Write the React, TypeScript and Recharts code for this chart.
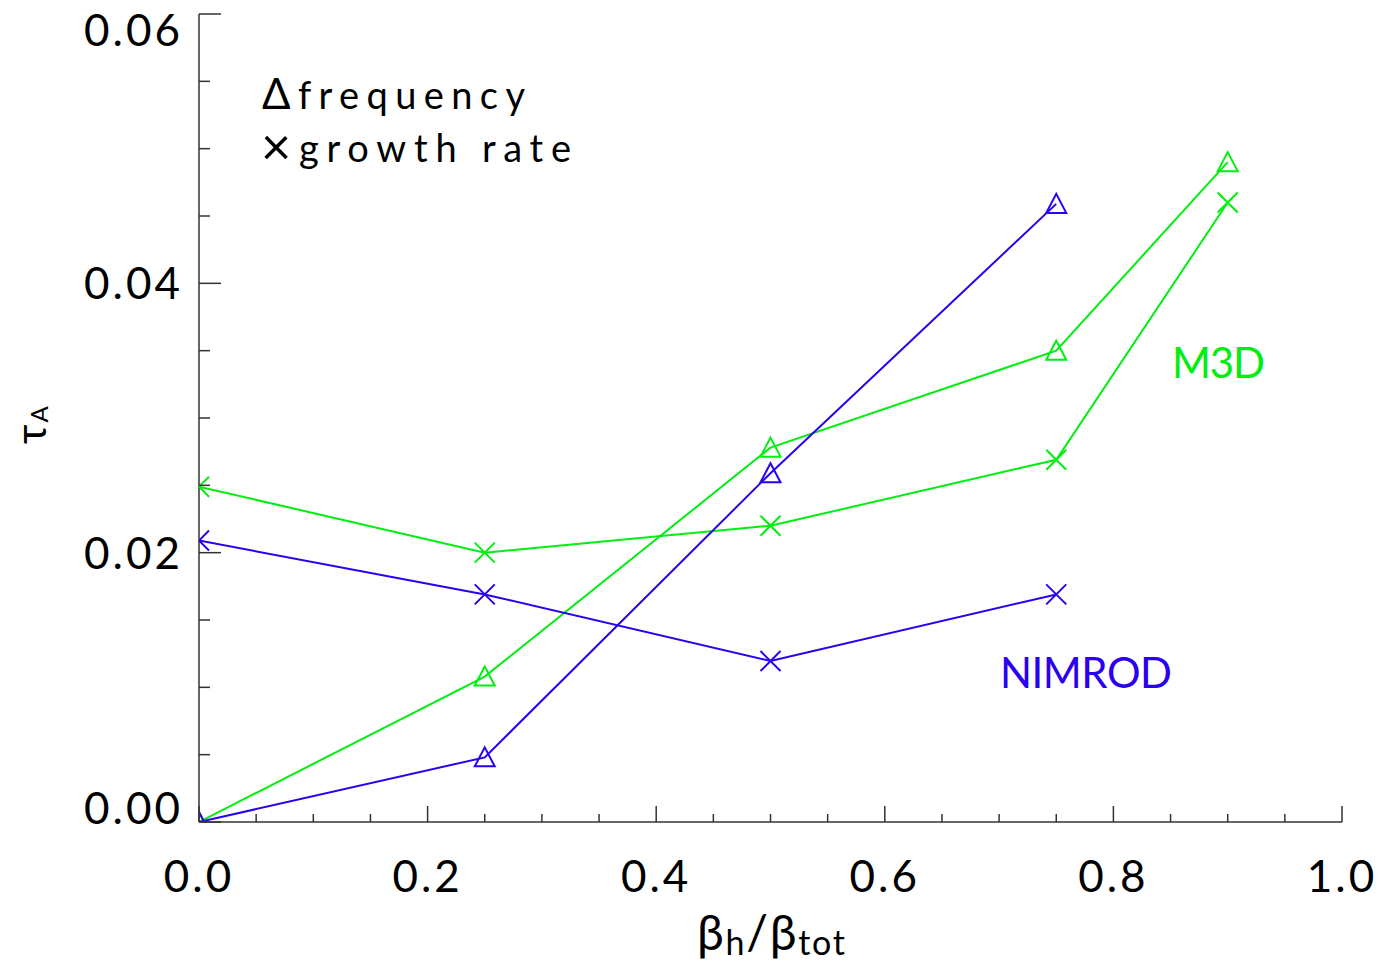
import React from "react";
import { ComposedChart, Line, XAxis, YAxis } from "recharts";

const betaRatio = [0, 0.25, 0.5, 0.75, 0.9];
const nimrodFrequency = [0, 0.0048, 0.0259, 0.0459, null];
const nimrodGrowth = [0.0209, 0.0169, 0.01195, 0.0169, null];
const m3dFrequency = [0, 0.0108, 0.0278, 0.035, 0.049];
const m3dGrowth = [0.0249, 0.02, 0.022, 0.0269, 0.046];

const xTicks = [0, 0.05, 0.1, 0.15, 0.2, 0.25, 0.3, 0.35, 0.4, 0.45, 0.5, 0.55, 0.6, 0.65, 0.7, 0.75, 0.8, 0.85, 0.9, 0.95, 1.0];
const yTicks = [0, 0.005, 0.01, 0.015, 0.02, 0.025, 0.03, 0.035, 0.04, 0.045, 0.05, 0.055, 0.06];

const BLUE = "#2a00f0";
const GREEN = "#00ee10";
const FRAME = "#333";
const FONT = "Lato, 'DejaVu Sans', sans-serif";

const chartData = betaRatio.map((x, i) => ({
  x,
  nimrodFreq: nimrodFrequency[i],
  nimrodGrowth: nimrodGrowth[i],
  m3dFreq: m3dFrequency[i],
  m3dGrowth: m3dGrowth[i],
}));

const isMajor = (v: number, step: number) => Math.abs(v / step - Math.round(v / step)) < 1e-6;

const BottomTick = (props: any) => {
  const { x, y, payload } = props;
  const major = isMajor(payload.value, 0.2);
  return (
    <g>
      <line x1={x} y1={y} x2={x} y2={y - (major ? 16 : 8)} stroke={FRAME} strokeWidth={1.5} />
      {major && (
        <text x={x} y={y + 70} textAnchor="middle" fontSize={44} fontFamily={FONT} fill="#000" letterSpacing={3}>
          {payload.value.toFixed(1)}
        </text>
      )}
    </g>
  );
};

const TopTick = (props: any) => {
  const { x, y, payload } = props;
  const major = isMajor(payload.value, 0.2);
  return <line x1={x} y1={y} x2={x} y2={y + (major ? 16 : 8)} stroke={FRAME} strokeWidth={1.5} />;
};

const LeftTick = (props: any) => {
  const { x, y, payload } = props;
  const v = payload.value;
  const major = isMajor(v, 0.02);
  // end labels are nudged inside the frame, as in the original
  const shift = v < 1e-9 ? -14 : v > 0.0599 ? 16 : 0;
  return (
    <g>
      <line x1={x} y1={y} x2={x + (major ? 22 : 11)} y2={y} stroke={FRAME} strokeWidth={1.5} />
      {major && (
        <text x={x - 16} y={y + 16 + shift} textAnchor="end" fontSize={44} fontFamily={FONT} fill="#000" letterSpacing={3}>
          {v.toFixed(2)}
        </text>
      )}
    </g>
  );
};

const RightTick = (props: any) => {
  const { x, y, payload } = props;
  const major = isMajor(payload.value, 0.02);
  return <line x1={x} y1={y} x2={x - (major ? 22 : 11)} y2={y} stroke={FRAME} strokeWidth={1.5} />;
};

const TriangleDot = (props: any) => {
  const { cx, cy, stroke } = props;
  if (cx == null || cy == null || isNaN(cy)) return <g />;
  return (
    <path
      d={`M${cx},${cy - 10} L${cx + 10},${cy + 9} L${cx - 10},${cy + 9} Z`}
      fill="none"
      stroke={stroke}
      strokeWidth={2}
    />
  );
};

const CrossDot = (props: any) => {
  const { cx, cy, stroke } = props;
  if (cx == null || cy == null || isNaN(cy)) return <g />;
  return (
    <path
      d={`M${cx - 10},${cy - 10} L${cx + 10},${cy + 10} M${cx - 10},${cy + 10} L${cx + 10},${cy - 10}`}
      fill="none"
      stroke={stroke}
      strokeWidth={2}
    />
  );
};

export default function App() {
  return (
    <div style={{ marginLeft: -8, marginTop: -8, width: 1384, height: 963, background: "#fff" }}>
      <ComposedChart width={1384} height={963} data={chartData} margin={{ top: 14, right: 42, bottom: 0, left: 0 }}>
        <XAxis
          xAxisId="bottom"
          dataKey="x"
          type="number"
          domain={[0, 1]}
          ticks={xTicks}
          allowDataOverflow
          height={141}
          tickSize={0}
          tickMargin={0}
          tickLine={false}
          tick={<BottomTick />}
          axisLine={{ stroke: FRAME, strokeWidth: 1.5 }}
          interval={0}
        />
        <XAxis
          xAxisId="top"
          orientation="top"
          dataKey="x"
          type="number"
          domain={[0, 1]}
          ticks={xTicks}
          allowDataOverflow
          height={0}
          tickSize={0}
          tickMargin={0}
          tickLine={false}
          tick={<TopTick />}
          axisLine={{ stroke: FRAME, strokeWidth: 1.5 }}
          interval={0}
        />
        <YAxis
          yAxisId="left"
          type="number"
          domain={[0, 0.06]}
          ticks={yTicks}
          allowDataOverflow
          width={199}
          tickSize={0}
          tickMargin={0}
          tickLine={false}
          tick={<LeftTick />}
          axisLine={{ stroke: FRAME, strokeWidth: 1.5 }}
          interval={0}
        />
        <YAxis
          yAxisId="right"
          orientation="right"
          type="number"
          domain={[0, 0.06]}
          ticks={yTicks}
          allowDataOverflow
          width={0}
          tickSize={0}
          tickMargin={0}
          tickLine={false}
          tick={<RightTick />}
          axisLine={{ stroke: FRAME, strokeWidth: 1.5 }}
          interval={0}
        />
        <Line xAxisId="bottom" yAxisId="left" dataKey="m3dFreq" stroke={GREEN} strokeWidth={2} dot={<TriangleDot />} isAnimationActive={false} />
        <Line xAxisId="bottom" yAxisId="left" dataKey="m3dGrowth" stroke={GREEN} strokeWidth={2} dot={<CrossDot />} isAnimationActive={false} />
        <Line xAxisId="bottom" yAxisId="left" dataKey="nimrodFreq" stroke={BLUE} strokeWidth={2} dot={<TriangleDot />} isAnimationActive={false} />
        <Line xAxisId="bottom" yAxisId="left" dataKey="nimrodGrowth" stroke={BLUE} strokeWidth={2} dot={<CrossDot />} isAnimationActive={false} />

        <text x={262} y={109} fontFamily={FONT} fill="#000" textLength={263} lengthAdjust="spacing">
          <tspan fontSize={42}>Δ</tspan>
          <tspan fontSize={38}>frequency</tspan>
        </text>
        <text x={261} y={162} fontFamily={FONT} fill="#000" textLength={310} lengthAdjust="spacing">
          <tspan fontSize={52} dy={3}>×</tspan>
          <tspan fontSize={38} dy={-3}>growth rate</tspan>
        </text>
        <text x={1172} y={378} fontSize={42} fontFamily={FONT} fill={GREEN} textLength={93} lengthAdjust="spacing">
          M3D
        </text>
        <text x={1000} y={688} fontSize={42} fontFamily={FONT} fill={BLUE} textLength={172} lengthAdjust="spacing">
          NIMROD
        </text>
        <text x={697} y={950} fontFamily={FONT} fill="#000" textLength={148} lengthAdjust="spacing">
          <tspan fontSize={48}>β</tspan>
          <tspan fontSize={34} dy={5}>h</tspan>
          <tspan fontSize={48} dy={-5}>/β</tspan>
          <tspan fontSize={34} dy={5}>tot</tspan>
        </text>
        <text x={46} y={444} transform="rotate(-90, 46, 444)" fontFamily={FONT} fill="#000">
          <tspan fontSize={42}>τ</tspan>
          <tspan fontSize={24} dx={2} dy={2}>A</tspan>
        </text>
      </ComposedChart>
    </div>
  );
}
